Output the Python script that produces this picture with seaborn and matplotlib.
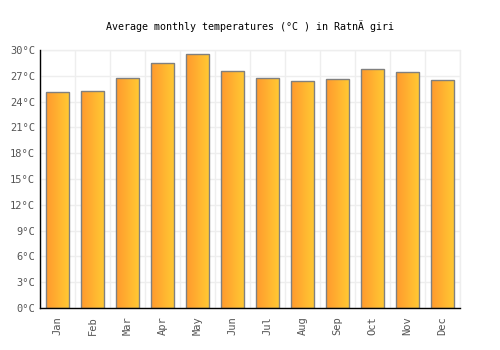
import numpy as np
import pandas as pd
import matplotlib
matplotlib.use('Agg')
import matplotlib.pyplot as plt
import seaborn as sns
from matplotlib.colors import LinearSegmentedColormap

months = ['Jan', 'Feb', 'Mar', 'Apr', 'May', 'Jun', 'Jul', 'Aug', 'Sep', 'Oct', 'Nov', 'Dec']
temps = [25.1, 25.2, 26.8, 28.5, 29.5, 27.6, 26.7, 26.4, 26.6, 27.8, 27.5, 26.5]
yticks = [0, 3, 6, 9, 12, 15, 18, 21, 24, 27, 30]

df = pd.DataFrame({'month': months, 'temp': temps})

sns.set_style('white')
plt.rcParams['font.family'] = ['DejaVu Sans Mono', 'DejaVu Sans']

fig = plt.figure(figsize=(5, 3.5), dpi=100)
ax = fig.add_axes([0.08, 0.12, 0.84, 0.737])

sns.barplot(data=df, x='month', y='temp', width=0.66, color='#ffb030',
            edgecolor='#808080', linewidth=1, ax=ax, zorder=3)

# gradient fill, orange on the left to yellow on the right
cmap = LinearSegmentedColormap.from_list('grad', ['#ff9a2e', '#ffca33'])
grad = np.linspace(0, 1, 64).reshape(1, -1)
for p in ax.patches:
    x0, y0 = p.get_x(), p.get_y()
    w, h = p.get_width(), p.get_height()
    im = ax.imshow(grad, cmap=cmap, aspect='auto', extent=[x0, x0 + w, y0, y0 + h],
                   zorder=3.5, interpolation='bicubic')
    im.set_clip_path(p)
    p.set_facecolor('none')
    p.set_zorder(4)

ax.set_xlim(-0.5, 11.5)
ax.set_ylim(0, 30)
ax.set_yticks(yticks)
ax.set_yticklabels([f'{t}°C' for t in yticks])
ax.set_xticks(range(12))
ax.set_xticklabels(months, rotation=90)
ax.set_xticks(np.arange(-0.5, 12, 1), minor=True)
ax.tick_params(axis='both', which='both', length=0, labelsize=7.5, labelcolor='#555555')
ax.tick_params(axis='x', pad=6)
ax.grid(True, axis='y', color='#eeeeee', linewidth=1, zorder=0)
ax.grid(True, axis='x', which='minor', color='#eeeeee', linewidth=1, zorder=0)
ax.axvline(11.5, color='#eeeeee', linewidth=1, zorder=0, clip_on=False)
ax.axhline(30, color='#eeeeee', linewidth=1, zorder=0, clip_on=False)
ax.set_xlabel('')
ax.set_ylabel('')

for s in ['top', 'right']:
    ax.spines[s].set_visible(False)
for s in ['left', 'bottom']:
    ax.spines[s].set_color('black')
    ax.spines[s].set_linewidth(1)
    ax.spines[s].set_zorder(5)

fig.text(0.5, 0.925, 'Average monthly temperatures (°C ) in RatnÄ giri',
         ha='center', va='center', fontsize=7.2, color='black')

fig.savefig('out.png', dpi=100)
